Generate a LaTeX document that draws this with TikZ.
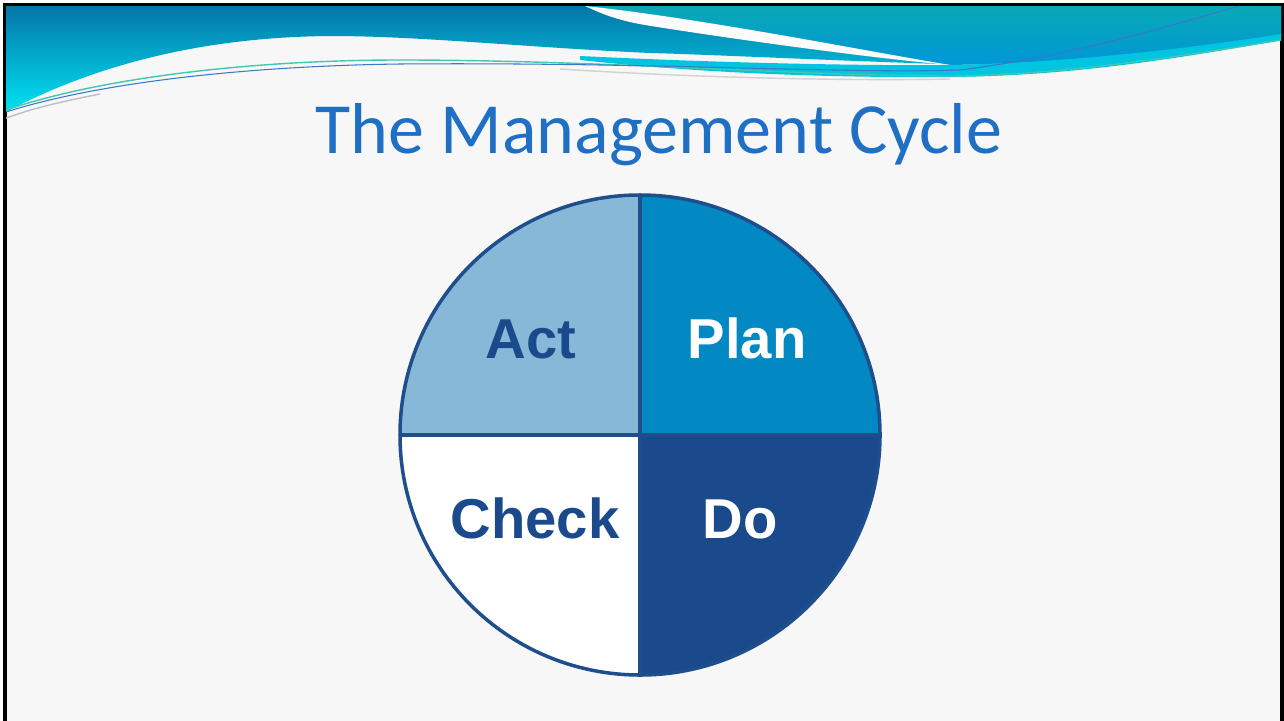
\documentclass[tikz,border=0pt]{standalone}
\usepackage{fontspec}
\setmainfont{Carlito}
\newfontfamily\labelfont{Liberation Sans}
\definecolor{slidegrey}{HTML}{F7F7F7}
\definecolor{bandtop}{HTML}{0476A8}
\definecolor{bandcyan}{HTML}{00E2F2}
\definecolor{tealtop}{HTML}{08A9B6}
\definecolor{skyblue}{HTML}{0096D8}
\definecolor{stripcyan}{HTML}{00C4E0}
\definecolor{titleblue}{HTML}{1F6FC4}
\definecolor{actblue}{HTML}{88B8D8}
\definecolor{planblue}{HTML}{0288C3}
\definecolor{doblue}{HTML}{1B4A8C}
\definecolor{rimblue}{HTML}{1F4E8D}
\definecolor{greenline}{HTML}{40C8B0}
\definecolor{blueline}{HTML}{3A78C8}
\begin{document}
\begin{tikzpicture}[x=0.02cm,y=-0.02cm,
	rim/.style={draw=rimblue,line width=2pt},
	lbl/.style={font=\labelfont\bfseries\fontsize{32}{38}\selectfont,anchor=base,inner sep=0pt}]
	\useasboundingbox (0,0) rectangle (1284,720);
	\fill[white] (0,0) rectangle (1284,720);
	\draw[fill=slidegrey,line width=2pt] (5,5) rectangle (1282,740);
	% top wave
	\shade[top color=bandtop,bottom color=bandcyan] (6,6) -- (1281,6) -- (1281,40) .. controls (1150,58) and (1040,66) .. (940,64) .. controls (820,60) and (720,55) .. (650,53) .. controls (520,47) and (420,36) .. (330,36) .. controls (210,37) and (100,62) .. (6,112) -- cycle;
	\shade[top color=tealtop,bottom color=skyblue] (585,6) -- (1281,6) -- (1281,34) .. controls (1180,50) and (1060,63) .. (950,65) .. controls (860,50) and (700,18) .. (585,6) -- cycle;
	\fill[slidegrey!40!white] (585,6) .. controls (700,18) and (860,50) .. (950,65) .. controls (850,56) and (700,34) .. (645,25) .. controls (615,20) and (598,12) .. (585,6) -- cycle;
	\fill[stripcyan] (580,56) .. controls (700,62) and (850,66) .. (950,65) .. controls (1060,63) and (1180,50) .. (1281,34) -- (1281,40) .. controls (1160,62) and (1060,76) .. (950,77) .. controls (820,78) and (690,72) .. (580,60) -- cycle;
	\draw[gray!50,line width=0.8pt] (6,118) .. controls (40,106) and (70,100) .. (100,94);
	\draw[gray!35,line width=0.8pt] (560,69) .. controls (700,78) and (850,81) .. (950,79);
	\draw[greenline,line width=0.8pt] (6,110) .. controls (100,78) and (250,60) .. (400,60) .. controls (600,60) and (800,76) .. (950,76) .. controls (1060,75) and (1170,58) .. (1281,40);
	\draw[blueline,line width=0.6pt] (6,112) .. controls (100,82) and (250,66) .. (400,64) .. controls (650,62) and (850,74) .. (960,70) .. controls (1080,55) and (1180,22) .. (1240,6);
	% title
	\node[font=\fontsize{41}{49}\selectfont,text=titleblue,anchor=base] (title) at (659,153) {The Management Cycle};
	% cycle
	\coordinate (c) at (640,435);
	\fill[planblue] (c) -- ++(0:240) arc[start angle=0,end angle=-90,radius=240] -- cycle;
	\fill[actblue] (c) -- ++(-90:240) arc[start angle=-90,end angle=-180,radius=240] -- cycle;
	\fill[white] (c) -- ++(180:240) arc[start angle=180,end angle=90,radius=240] -- cycle;
	\fill[doblue] (c) -- ++(90:240) arc[start angle=90,end angle=0,radius=240] -- cycle;
	\draw[rim] (c) circle[radius=240];
	\draw[rim] (c) ++(0,-240) -- ++(0,480);
	\draw[rim] (c) ++(-240,0) -- ++(480,0);
	\node[lbl,text=doblue] (act) at (531,358) {Act};
	\node[lbl,text=white] (plan) at (747,358) {Plan};
	\node[lbl,text=doblue] (check) at (535,538) {Check};
	\node[lbl,text=white] (do) at (740,538) {Do};
\end{tikzpicture}
\end{document}
